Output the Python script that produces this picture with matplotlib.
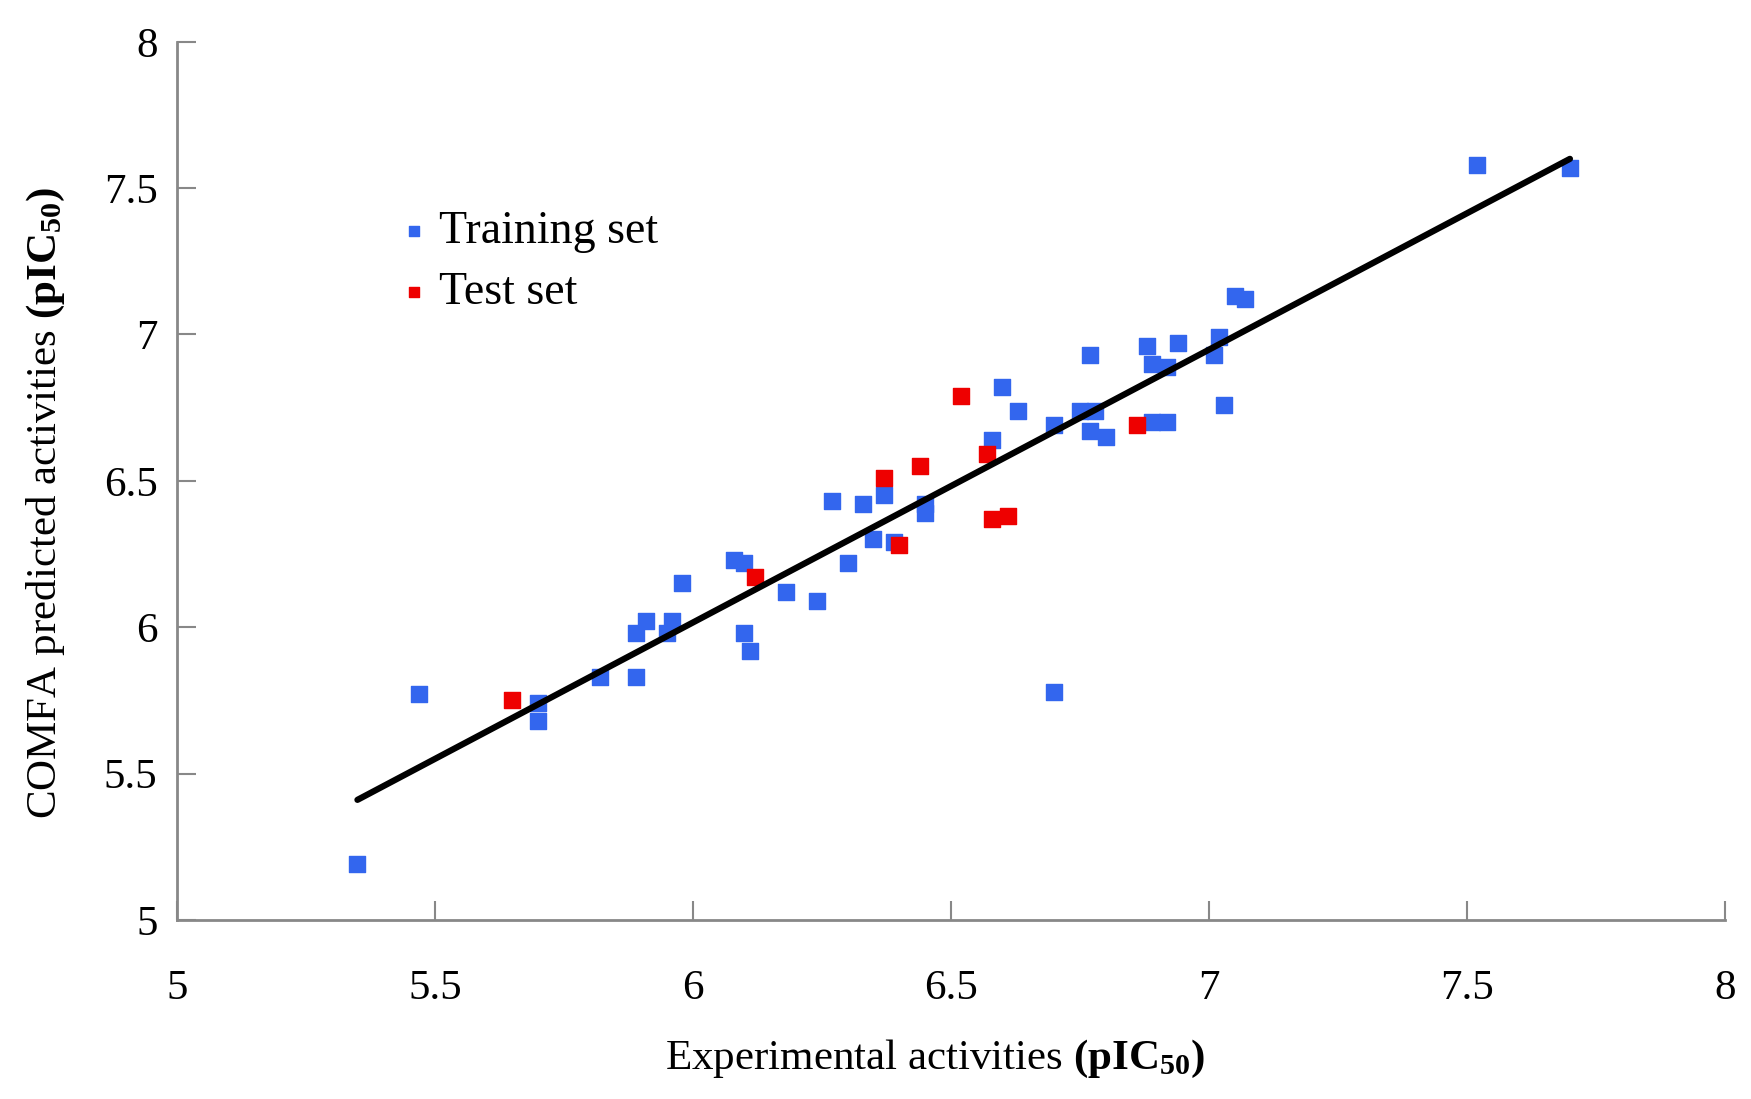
import matplotlib
matplotlib.use("Agg")
import matplotlib.pyplot as plt

# data
train_x = [5.35, 5.47, 5.70, 5.70, 5.82, 5.89, 5.89, 5.91, 5.95, 5.96, 5.98,
           6.08, 6.10, 6.10, 6.11, 6.18, 6.24, 6.27, 6.30, 6.33, 6.35, 6.37,
           6.39, 6.45, 6.45, 6.58, 6.60, 6.63, 6.70, 6.70, 6.75, 6.78, 6.77,
           6.77, 6.80, 6.88, 6.89, 6.89, 6.92, 6.92, 6.94, 7.01, 7.02, 7.03,
           7.05, 7.07, 7.52, 7.70]
train_y = [5.19, 5.77, 5.74, 5.68, 5.83, 5.83, 5.98, 6.02, 5.98, 6.02, 6.15,
           6.23, 6.22, 5.98, 5.92, 6.12, 6.09, 6.43, 6.22, 6.42, 6.30, 6.45,
           6.29, 6.42, 6.39, 6.64, 6.82, 6.74, 6.69, 5.78, 6.74, 6.74, 6.93,
           6.67, 6.65, 6.96, 6.70, 6.90, 6.89, 6.70, 6.97, 6.93, 6.99, 6.76,
           7.13, 7.12, 7.58, 7.57]

test_x = [5.65, 6.12, 6.37, 6.40, 6.44, 6.52, 6.57, 6.58, 6.61, 6.86]
test_y = [5.75, 6.17, 6.51, 6.28, 6.55, 6.79, 6.59, 6.37, 6.38, 6.69]

fit_x = [5.35, 7.70]
fit_y = [5.41, 7.60]

ticks = [5, 5.5, 6, 6.5, 7, 7.5, 8]
tick_labels = ["5", "5.5", "6", "6.5", "7", "7.5", "8"]

plt.rcParams['font.family'] = ['Liberation Serif', 'DejaVu Serif']
plt.rcParams['mathtext.fontset'] = 'custom'
plt.rcParams['mathtext.rm'] = 'Liberation Serif'
plt.rcParams['mathtext.it'] = 'Liberation Serif:italic'
plt.rcParams['mathtext.bf'] = 'Liberation Serif:bold'

fig = plt.figure(figsize=(17.51, 10.99), dpi=100)
ax = fig.add_axes([0.101, 0.163, 0.884, 0.799])

blue = '#3366ee'
red = '#ee0000'

ax.plot(fit_x, fit_y, color='black', lw=4.5, solid_capstyle='round', zorder=3)
ax.scatter(train_x, train_y, marker='s', s=125, color=blue, zorder=2,
           label='Training set')
ax.scatter(test_x, test_y, marker='s', s=125, color=red, zorder=2,
           label='Test set')

ax.set_xlim(5, 8)
ax.set_ylim(5, 8)
ax.set_xticks(ticks)
ax.set_xticklabels(tick_labels)
ax.set_yticks(ticks)
ax.set_yticklabels(tick_labels)

for s in ['top', 'right']:
    ax.spines[s].set_visible(False)
for s in ['left', 'bottom']:
    ax.spines[s].set_color('#888888')
    ax.spines[s].set_linewidth(2)

ax.tick_params(axis='both', direction='in', length=14, width=1.5,
               color='#888888', labelsize=31)
ax.tick_params(axis='x', pad=36)
ax.tick_params(axis='y', pad=14)

ax.set_xlabel(r'Experimental activities $\mathbf{(pIC_{50})}$', fontsize=31)
ax.set_ylabel(r'COMFA predicted activities $\mathbf{(pIC_{50})}$', fontsize=31)
ax.xaxis.set_label_coords(0.49, -0.135)
ax.yaxis.set_label_coords(-0.071, 0.475)

leg = ax.legend(loc='upper left', bbox_to_anchor=(0.11, 0.855), frameon=False,
                fontsize=33, handletextpad=0.0, markerscale=0.6,
                labelspacing=0.4, handlelength=1.1)

fig.savefig('out.png', dpi=100)
